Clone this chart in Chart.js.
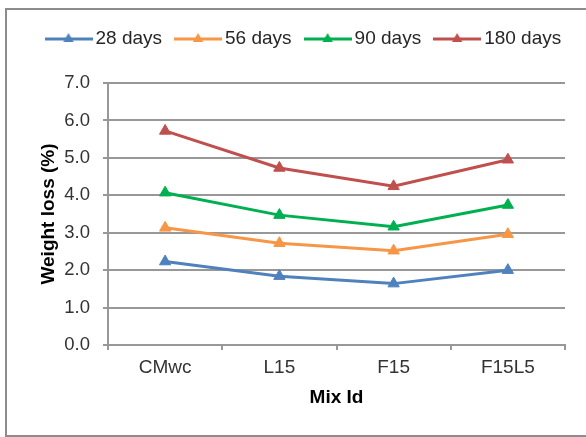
<!DOCTYPE html>
<html>
<head>
<meta charset="utf-8">
<script src="https://cdn.jsdelivr.net/npm/chart.js@4/dist/chart.umd.min.js"></script>
<style>
html, body { margin: 0; padding: 0; background: #fff; overflow: hidden; }
#frame { position: absolute; left: 5px; top: 8px; width: 640px; height: 429px; box-sizing: border-box; border: 2px solid #8c8c8c; }
#wrap { position: absolute; left: 0; top: 0; width: 586px; height: 437px; }
</style>
</head>
<body>
<div id="frame"></div>
<div id="wrap"><canvas id="c" width="586" height="437"></canvas></div>
<script>
// ---- data ----
const categories = ['CMwc', 'L15', 'F15', 'F15L5'];
const seriesNames = ['28 days', '56 days', '90 days', '180 days'];
const days28 = [2.23, 1.84, 1.64, 2.00];
const days56 = [3.13, 2.72, 2.52, 2.96];
const days90 = [4.07, 3.47, 3.16, 3.74];
const days180 = [5.72, 4.73, 4.24, 4.95];
const yTicks = [0, 1, 2, 3, 4, 5, 6, 7];
const xTitle = 'Mix Id';
const yTitle = 'Weight loss (%)';

// ---- styles ----
const colors = ['#4F81BD', '#F79646', '#00B050', '#C0504D'];
const gridColor = '#989898';
const FONT = "'Liberation Sans', Arial, sans-serif";
Chart.defaults.font.family = FONT;

function legendIcon(color) {
  const c = document.createElement('canvas');
  c.width = 48; c.height = 14;
  const g = c.getContext('2d');
  g.strokeStyle = color; g.lineWidth = 3;
  g.beginPath(); g.moveTo(0, 7); g.lineTo(48, 7); g.stroke();
  const r = 6, cx = 24, cy = 7;
  g.fillStyle = color;
  g.beginPath();
  g.moveTo(cx, cy - r);
  g.lineTo(cx + r * 0.866, cy + r / 2);
  g.lineTo(cx - r * 0.866, cy + r / 2);
  g.closePath(); g.fill();
  return c;
}
const icons = colors.map(legendIcon);

// keep the legend on one row and leave space below it
const legendGap = {
  id: 'legendGap',
  beforeLayout(chart) {
    const lg = chart.legend;
    if (lg && !lg.__gap) {
      const orig = lg.fit.bind(lg);
      lg.fit = function () {
        const mw = this.maxWidth;
        this.maxWidth = mw + 60;
        orig();
        this.maxWidth = mw;
        this.height += 24.5;
      };
      lg.__gap = true;
    }
  },
  afterLayout(chart) {
    const lg = chart.legend;
    if (lg) { lg.left -= 4.5; lg.right += 40; lg.width += 44.5; }
  }
};

const seriesValues = [days28, days56, days90, days180];
const datasets = seriesValues.map((vals, i) => ({
  label: seriesNames[i],
  data: vals,
  borderColor: colors[i],
  backgroundColor: colors[i],
  borderWidth: 3,
  tension: 0,
  pointStyle: 'triangle',
  pointRadius: 6.5,
  pointHoverRadius: 6.5,
  pointBackgroundColor: colors[i],
  pointBorderColor: colors[i],
  pointBorderWidth: 1
}));

new Chart(document.getElementById('c'), {
  type: 'line',
  data: { labels: categories, datasets },
  plugins: [legendGap],
  options: {
    responsive: false,
    animation: false,
    devicePixelRatio: 1,
    events: [],
    layout: { padding: { left: 37, right: 21, top: 11, bottom: 0 } },
    plugins: {
      tooltip: { enabled: false },
      legend: {
        position: 'top',
        align: 'start',
        labels: {
          usePointStyle: true,
          pointStyleWidth: 35,
          padding: 18.5,
          color: '#262626',
          font: { family: FONT, size: 19 },
          generateLabels(chart) {
            const items = Chart.defaults.plugins.legend.labels.generateLabels(chart);
            items.forEach((it, i) => { it.pointStyle = icons[i]; });
            return items;
          }
        }
      }
    },
    scales: {
      x: {
        type: 'category',
        offset: true,
        afterFit(s) { s.height = 92; },
        grid: { offset: true, drawOnChartArea: false, drawTicks: true, tickLength: 5, color: gridColor, lineWidth: 2 },
        border: { display: true, color: gridColor, width: 2 },
        ticks: { padding: 6.6, color: '#333', font: { family: FONT, size: 19 } },
        title: { display: true, text: xTitle, color: '#000', font: { family: FONT, size: 19, weight: 'bold' }, padding: { top: 0, bottom: 27.6 } }
      },
      y: {
        min: 0,
        max: 7,
        afterFit(s) { s.width = 71; },
        afterBuildTicks(s) { s.ticks = yTicks.map(v => ({ value: v })); },
        grid: { color: gridColor, lineWidth: 2, drawTicks: true, tickLength: 5 },
        border: { display: true, color: gridColor, width: 2 },
        ticks: { padding: 13, color: '#333', font: { family: FONT, size: 18.5 }, callback: v => Number(v).toFixed(1) },
        title: { display: true, text: yTitle, color: '#000', font: { family: FONT, size: 19, weight: 'bold' }, padding: { top: 0.6, bottom: 0 } }
      }
    }
  }
});
</script>
</body>
</html>
